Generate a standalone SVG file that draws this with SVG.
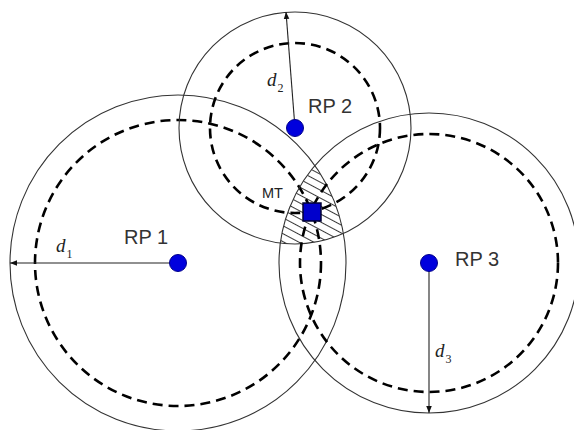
<svg xmlns="http://www.w3.org/2000/svg" width="574" height="430" viewBox="0 0 574 430">
<style>
.outer{fill:none;stroke:#333;stroke-width:1.1}
.dash{fill:none;stroke:#000;stroke-width:2.6;stroke-dasharray:10 6}
.rad{stroke:#222;stroke-width:1.1;fill:none;marker-end:url(#ah)}
.rp{fill:#0000dd;stroke:#00008b;stroke-width:1}
.lbl{font-family:"Liberation Sans",Arial,sans-serif;font-size:20px;fill:#333}
.d{font-family:"Liberation Serif","Times New Roman",serif;font-style:italic;font-size:19px;fill:#222}
.sub{font-size:12px;font-style:normal}
</style>
<defs>
<marker id="ah" viewBox="0 0 10 10" refX="10" refY="5" markerWidth="7" markerHeight="7" markerUnits="userSpaceOnUse" orient="auto">
<path d="M0,1 L10,5 L0,9 z" fill="#111"/>
</marker>
<pattern id="hatch" patternUnits="userSpaceOnUse" width="7" height="7" patternTransform="rotate(28)">
<line x1="0" y1="3.5" x2="7" y2="3.5" stroke="#222" stroke-width="0.9"/>
</pattern>
<clipPath id="c1"><circle cx="178" cy="263" r="168"/></clipPath>
<clipPath id="c2"><circle cx="295" cy="128" r="116"/></clipPath>
<clipPath id="c3"><circle cx="429" cy="263" r="150"/></clipPath>
</defs>
<g id="hatched-area" clip-path="url(#c1)">
<g clip-path="url(#c2)">
<g clip-path="url(#c3)">
<rect x="250" y="140" width="120" height="120" fill="url(#hatch)"/>
</g></g></g>
<g id="rp1-range">
<circle class="outer" cx="178" cy="263" r="168"/>
<circle class="dash" cx="178" cy="263" r="143"/>
</g>
<g id="rp2-range">
<circle class="outer" cx="295" cy="128" r="116"/>
<circle class="dash" cx="295" cy="128" r="85"/>
</g>
<g id="rp3-range">
<circle class="outer" cx="429" cy="263" r="150"/>
<circle class="dash" cx="429" cy="263" r="129"/>
</g>
<g id="connectors">
<line class="rad" x1="178" y1="263" x2="10" y2="263"/>
<line class="rad" x1="295" y1="128" x2="286" y2="12"/>
<line class="rad" x1="429" y1="263" x2="429" y2="413"/>
</g>
<g id="rp1">
<circle class="rp" cx="178" cy="263" r="8.5"/>
<text class="lbl" x="124" y="244">RP 1</text>
<text class="d" x="56" y="252">d<tspan class="sub" dx="1" dy="6">1</tspan></text>
</g>
<g id="rp2">
<circle class="rp" cx="295" cy="128" r="8.5"/>
<text class="lbl" x="308" y="113">RP 2</text>
<text class="d" x="267" y="86">d<tspan class="sub" dx="1" dy="6">2</tspan></text>
</g>
<g id="rp3">
<circle class="rp" cx="429" cy="263" r="8.5"/>
<text class="lbl" x="455" y="266">RP 3</text>
<text class="d" x="435" y="357">d<tspan class="sub" dx="1" dy="6">3</tspan></text>
</g>
<g id="mt">
<rect x="303" y="203" width="18" height="18" fill="#0000cc" stroke="#000033" stroke-width="1.5"/>
<text class="lbl" x="262" y="198" style="font-size:14.5px;fill:#222">MT</text>
</g>
</svg>
